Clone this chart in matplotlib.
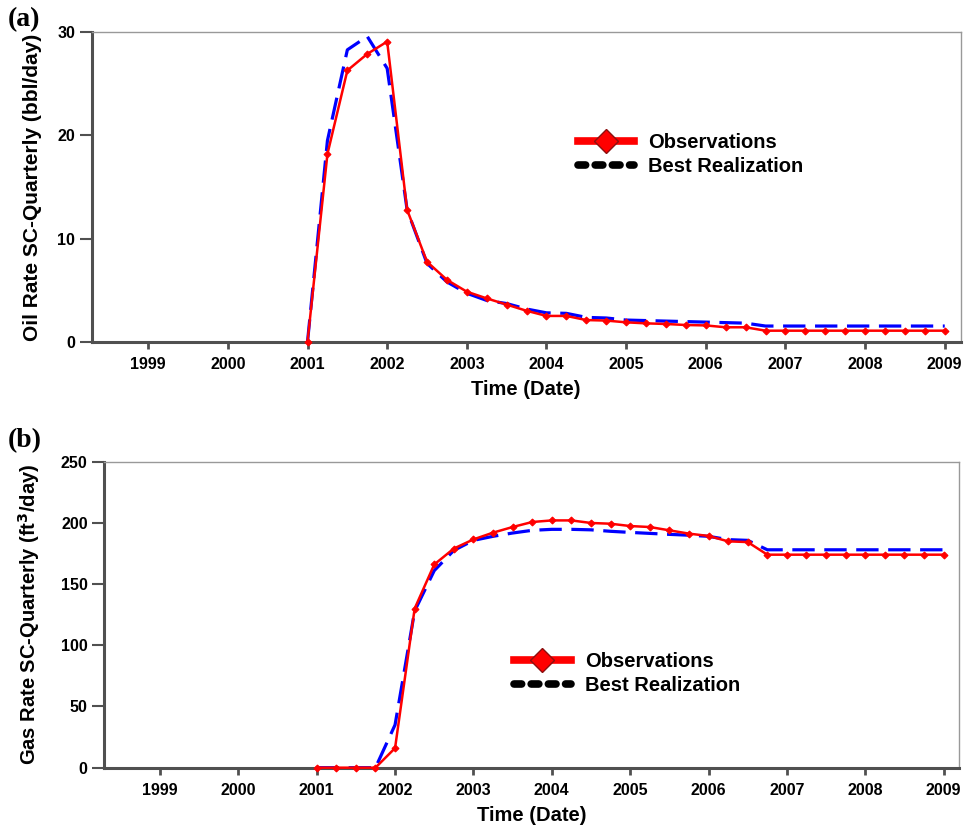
import numpy as np
import matplotlib
matplotlib.use("Agg")
import matplotlib.pyplot as plt
from matplotlib.lines import Line2D

plt.rcParams['font.family'] = ['Liberation Sans', 'DejaVu Sans']
plt.rcParams['font.weight'] = 'bold'
plt.rcParams['axes.labelweight'] = 'bold'

# quarterly dates, 2001.0 -> 2009.0
dates = [2001 + 0.25 * i for i in range(33)]
years = list(range(1999, 2010))

oil_obs = [0, 18.2, 26.3, 27.9, 29.1, 12.8, 7.75, 6.0, 4.85, 4.2, 3.6, 3.0,
           2.5, 2.5, 2.1, 2.05, 1.88, 1.78, 1.72, 1.62, 1.58, 1.4, 1.4, 1.07,
           1.07, 1.07, 1.07, 1.07, 1.07, 1.07, 1.07, 1.07, 1.07]
oil_best = [0, 19.5, 28.3, 29.6, 26.5, 12.8, 7.6, 5.8, 4.7, 4.0, 3.7, 3.17,
            2.8, 2.75, 2.36, 2.3, 2.1, 2.05, 2.0, 1.95, 1.9, 1.85, 1.8, 1.52,
            1.52, 1.52, 1.52, 1.52, 1.52, 1.52, 1.52, 1.52, 1.52]

gas_obs = [0, 0, 0, 0, 16, 130, 166, 179, 186.5, 192, 196.6, 200.7,
           202, 202, 199.9, 199.3, 197.4, 196.6, 193.9, 191.2, 189.3, 184.9, 184.3, 174,
           174, 174, 174, 174, 174, 174, 174, 174, 174]
gas_best = [0, 0, 0, 0, 35, 128, 161, 177.5, 185.7, 189, 191.7, 193.9,
            194.7, 194.7, 194.3, 193.1, 192.2, 191.4, 190.6, 189.9, 189, 186.3, 185.7, 178,
            178, 178, 178, 178, 178, 178, 178, 178, 178]

fig = plt.figure(figsize=(9.65, 8.26), dpi=100)
ax1 = fig.add_axes([0.095, 0.5863, 0.9005, 0.3746])
ax2 = fig.add_axes([0.1081, 0.0706, 0.886, 0.3705])


def style(ax, ylim, yticks):
    ax.set_xlim(1998.29, 2009.2)
    ax.set_ylim(*ylim)
    ax.set_xticks(years)
    ax.set_xticklabels([str(y) for y in years])
    ax.set_yticks(yticks)
    for s in ['left', 'bottom']:
        ax.spines[s].set_color('#505050')
        ax.spines[s].set_linewidth(2.2)
    for s in ['top', 'right']:
        ax.spines[s].set_color('#999999')
        ax.spines[s].set_linewidth(1.0)
    ax.tick_params(axis='x', direction='out', length=5, width=2, color='#505050',
                   labelsize=11.5, pad=6)
    ax.tick_params(axis='y', direction='out', length=9, width=1.5, color='#505050',
                   labelsize=11.5, pad=3)
    ax.set_xlabel('Time (Date)', fontsize=14.5, labelpad=6)


def draw(ax, obs, best):
    ax.plot(dates, best, color='#0000ff', lw=2.3, ls=(0, (7, 3)), zorder=3)
    ax.plot(dates, obs, color='#ff0000', lw=1.8, marker='D', markersize=3.5,
            markeredgewidth=0.8, zorder=4, clip_on=False)


draw(ax1, oil_obs, oil_best)
draw(ax2, gas_obs, gas_best)
style(ax1, (0, 30), [0, 10, 20, 30])
style(ax2, (0, 250), [0, 50, 100, 150, 200, 250])

ax1.set_ylabel('Oil Rate SC-Quarterly (bbl/day)', fontsize=15)
ax1.yaxis.set_label_coords(-0.057, 0.5)
ax2.set_ylabel('Gas Rate SC-Quarterly (ft$^{\\mathbf{3}}$/day)', fontsize=14.5)
ax2.yaxis.set_label_coords(-0.073, 0.5)

handles = [
    Line2D([], [], color='#ff0000', lw=5.5, marker='D', markersize=12,
           markerfacecolor='#ff0000', markeredgecolor='#8b1010', markeredgewidth=1),
    Line2D([], [], color='black', lw=5.5, ls=(0, (1.0, 1.25)), dash_capstyle='round'),
]
labels = ['Observations', 'Best Realization']
for ax, anchor in [(ax1, (0.55, 0.70)), (ax2, (0.47, 0.405))]:
    ax.legend(handles, labels, loc='upper left', bbox_to_anchor=anchor,
              frameon=False, fontsize=14.5, handlelength=2.8, handletextpad=0.7,
              labelspacing=0.25, borderaxespad=0)

fig.text(0.008, 0.976, '(a)', family=['Liberation Serif', 'DejaVu Serif'],
         fontsize=20, fontweight='bold', va='center')
fig.text(0.008, 0.467, '(b)', family=['Liberation Serif', 'DejaVu Serif'],
         fontsize=20, fontweight='bold', va='center')

fig.savefig('out.png', dpi=100)
